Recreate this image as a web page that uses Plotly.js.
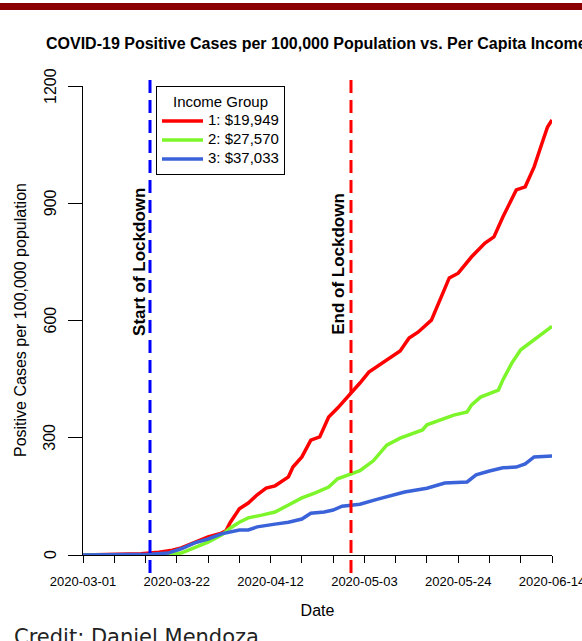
<!DOCTYPE html>
<html><head><meta charset="utf-8">
<script src="https://cdn.plot.ly/plotly-3.0.1.min.js"></script>
<style>html,body{margin:0;padding:0;background:#fff}#chart{width:582px;height:641px}</style>
</head><body><div id="chart"></div>
<script>
// ---- data ----
const redDates = ['2020-03-01','2020-03-11','2020-03-14','2020-03-18','2020-03-21','2020-03-23','2020-03-26','2020-03-29','2020-04-01','2020-04-02','2020-04-03','2020-04-05','2020-04-07','2020-04-09','2020-04-11','2020-04-13','2020-04-16','2020-04-17','2020-04-19','2020-04-21','2020-04-23','2020-04-25','2020-04-27','2020-04-30','2020-05-02','2020-05-04','2020-05-08','2020-05-11','2020-05-13','2020-05-15','2020-05-18','2020-05-20','2020-05-22','2020-05-24','2020-05-27','2020-05-30','2020-06-01','2020-06-03','2020-06-06','2020-06-08','2020-06-10','2020-06-12','2020-06-13','2020-06-14'];
const redValues = [0,1,3,7,12,18,32,46,56,62,84,118,133,154,171,177,200,225,251,294,302,353,376,414,440,468,498,522,555,570,601,655,709,721,763,798,814,865,934,942,993,1062,1095,1113];

const greenDates = ['2020-03-01','2020-03-20','2020-03-23','2020-03-26','2020-03-29','2020-04-01','2020-04-03','2020-04-05','2020-04-07','2020-04-10','2020-04-13','2020-04-16','2020-04-19','2020-04-22','2020-04-25','2020-04-27','2020-04-30','2020-05-02','2020-05-05','2020-05-08','2020-05-11','2020-05-14','2020-05-16','2020-05-17','2020-05-20','2020-05-23','2020-05-26','2020-05-27','2020-05-29','2020-06-02','2020-06-03','2020-06-05','2020-06-07','2020-06-10','2020-06-12','2020-06-14'];
const greenValues = [0,1,5,18,33,51,69,84,95,102,110,128,146,159,174,195,208,216,241,281,299,312,320,333,345,358,366,384,404,422,448,491,525,550,568,585];

const blueDates = ['2020-03-01','2020-03-16','2020-03-20','2020-03-23','2020-03-26','2020-03-29','2020-04-01','2020-04-03','2020-04-05','2020-04-07','2020-04-09','2020-04-13','2020-04-16','2020-04-19','2020-04-21','2020-04-24','2020-04-26','2020-04-28','2020-05-02','2020-05-06','2020-05-12','2020-05-17','2020-05-21','2020-05-26','2020-05-28','2020-05-31','2020-06-03','2020-06-06','2020-06-08','2020-06-10','2020-06-12','2020-06-14'];
const blueValues = [0,2,5,16,31,41,54,59,64,64,72,79,84,92,107,110,115,125,130,143,161,171,184,187,205,215,223,225,233,251,251,253];

const groupNames = ['1: $19,949','2: $27,570','3: $37,033'];
const lockdownStart = '2020-03-16';
const lockdownEnd = '2020-04-30';
const xTickStart = '2020-03-01';
const xRange = ['2020-03-01','2020-06-14'];
const yRange = [0,1200];
const yTickVals = [0,300,600,900,1200];
const yTickText = ['0','300','600','900','1200'];

// ---- styles ----
const colors = ['#ff0000','#7cf52a','#3b63d9'];
const DAY = 86400000;
const FONT = 'Liberation Sans, Arial, Helvetica, sans-serif';

const series = [[redDates,redValues],[greenDates,greenValues],[blueDates,blueValues]];
const traces = series.map((s,i)=>({
  type:'scatter', mode:'lines', x:s[0], y:s[1],
  name:'<span style="font-size:15px">'+groupNames[i]+'</span>',
  line:{color:colors[i], width:3.5}, hoverinfo:'skip'
}));

const yTickAnns = yTickVals.map((v,i)=>({
  xref:'paper', yref:'y', x:-33/469, y:v, text:yTickText[i], textangle:-90,
  showarrow:false, xanchor:'center', yanchor:'middle',
  font:{size:16, family:FONT, color:'#000'}
}));

const layout = {
  width:582, height:641,
  margin:{l:83, r:30, t:86, b:86, pad:0},
  paper_bgcolor:'#ffffff', plot_bgcolor:'#ffffff',
  font:{family:FONT, color:'#000'},
  showlegend:true,
  title:{text:'COVID-19 Positive Cases per 100,000 Population vs. Per Capita Income',
    font:{size:16, weight:'bold', family:FONT, color:'#000'},
    xref:'container', yref:'container', x:46/582, xanchor:'left', y:1-43/641, yanchor:'middle'},
  xaxis:{type:'date', range:xRange, showgrid:false, zeroline:false,
    showline:true, linecolor:'#000', linewidth:1,
    ticks:'outside', ticklen:7, tickcolor:'#000', tickwidth:1,
    tick0:xTickStart, dtick:21*DAY, tickformat:'%Y-%m-%d', tickfont:{size:13},
    ticklabeloverflow:'allow', ticklabelstandoff:7,
    minor:{tick0:xTickStart, dtick:7*DAY, ticks:'outside', ticklen:7, tickcolor:'#000', tickwidth:1, showgrid:false},
    title:{text:'Date', font:{size:16}, standoff:17}},
  yaxis:{range:yRange, showgrid:false, zeroline:false,
    showline:true, linecolor:'#000', linewidth:1,
    ticks:'outside', ticklen:14, tickcolor:'#000', tickwidth:1,
    tickmode:'array', tickvals:yTickVals, showticklabels:false},
  legend:{x:(156-83)/469, y:1, xanchor:'left', yanchor:'top',
    bordercolor:'#000', borderwidth:1, bgcolor:'#fff',
    font:{size:11}, tracegroupgap:0, itemwidth:41,
    title:{text:'Income Group', side:'top center', font:{size:15}}},
  shapes:[
    {type:'line', xref:'x', yref:'paper', x0:lockdownStart, x1:lockdownStart, y0:-18/469, y1:1+6/469,
      line:{color:'#0000ff', width:3, dash:'13px,7px'}, layer:'above'},
    {type:'line', xref:'x', yref:'paper', x0:lockdownEnd, x1:lockdownEnd, y0:-18/469, y1:1+6/469,
      line:{color:'#ff0000', width:3, dash:'13px,7px'}, layer:'above'},
    {type:'rect', xref:'paper', yref:'paper', x0:-83/469, x1:499/469, y0:(555-10)/469, y1:(555-3)/469,
      fillcolor:'#8b0000', line:{width:0}}
  ],
  annotations:yTickAnns.concat([
    {xref:'paper', yref:'paper', x:-63/469, y:(555-320)/469, text:'Positive Cases per 100,000 population',
      textangle:-90, showarrow:false, xanchor:'center', yanchor:'middle',
      font:{size:16, family:FONT, color:'#000'}},
    {xref:'x', yref:'y', x:lockdownStart, y:750, text:'Start of Lockdown', textangle:-90,
      showarrow:false, xanchor:'center', yanchor:'middle', xshift:-10,
      font:{size:17, weight:'bold', family:FONT, color:'#000'}},
    {xref:'x', yref:'y', x:lockdownEnd, y:745, text:'End of Lockdown', textangle:-90,
      showarrow:false, xanchor:'center', yanchor:'middle', xshift:-12,
      font:{size:17, weight:'bold', family:FONT, color:'#000'}},
    {xref:'paper', yref:'paper', x:(12-83)/469, y:(555-623)/469, xanchor:'left', yanchor:'top',
      text:'Credit: Daniel Mendoza', showarrow:false,
      font:{size:21, family:'DejaVu Sans, sans-serif', color:'#222'}}
  ])
};

Plotly.newPlot('chart', traces, layout, {staticPlot:true, displayModeBar:false});
</script></body></html>
